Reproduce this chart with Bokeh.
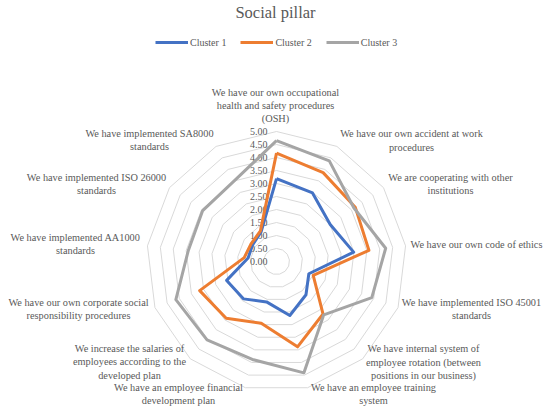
import numpy as np
from bokeh.plotting import figure
from bokeh.models import Range1d, Legend, LegendItem
from bokeh.core.properties import value
from bokeh.embed import file_html
from bokeh.resources import INLINE

# ---------------- data ----------------
CATEGORIES = [
    "We have our own occupational\nhealth and safety procedures\n(OSH)",
    "We have our own accident at work\nprocedures",
    "We are cooperating with other\ninstitutions",
    "We have our own code of ethics",
    "We have implemented ISO 45001\nstandards",
    "We have internal system of\nemployee rotation (between\npositions in our business)",
    "We have an employee training\nsystem",
    "We have an employee financial\ndevelopment plan",
    "We increase the salaries of\nemployees according to the\ndeveloped plan",
    "We have our own corporate social\nresponsibility procedures",
    "We have implemented AA1000\nstandards",
    "We have implemented ISO 26000\nstandards",
    "We have implemented SA8000\nstandards",
]
SERIES_NAMES = ["Cluster 1", "Cluster 2", "Cluster 3"]
CLUSTER_1 = [3.19, 2.98, 2.51, 2.99, 1.33, 1.71, 2.14, 1.60, 1.92, 2.05, 1.10, 1.12, 1.28]
CLUSTER_2 = [4.17, 3.86, 3.68, 3.58, 1.51, 2.70, 3.38, 2.45, 2.92, 3.16, 1.25, 1.19, 1.33]
CLUSTER_3 = [4.65, 4.37, 3.62, 4.23, 3.92, 2.74, 4.41, 3.88, 4.03, 4.14, 3.42, 3.45, 3.50]
TICKS = [0.0, 0.5, 1.0, 1.5, 2.0, 2.5, 3.0, 3.5, 4.0, 4.5, 5.0]
TICK_LABELS = ["0.00", "0.50", "1.00", "1.50", "2.00", "2.50", "3.00", "3.50", "4.00", "4.50", "5.00"]

# ---------------- layout / style ----------------
W, H = 550, 410
OFF_X, OFF_Y = 0, 0      # page offset of the figure
PX_PER_UNIT = 26.0
CX, CY = 276.0, 261.0   # radar centre in page pixels
TEXT_COLOR = "#595959"
FONT = "Liberation Serif"
COLORS = ["#4472C4", "#ED7D31", "#A5A5A5"]
# label block centres (page px) : (centre x, first line y)
LABEL_LAYOUT = [
    (275, 91.7), (411, 133.3), (450, 177.0), (476, 244.0), (471, 301.7),
    (423, 348.3), (373, 387.0), (178, 387.0), (129, 348.0), (78, 301.7),
    (75, 236.7), (96, 176.7), (149, 133.0),
]
LINE_STEP = 13.3


def px_to_data(px, py):
    return (px - CX) / PX_PER_UNIT, (CY - py) / PX_PER_UNIT


x0, y_top = px_to_data(OFF_X, OFF_Y)
x1, y_bot = px_to_data(OFF_X + W, OFF_Y + H)

p = figure(width=W, height=H, output_backend="svg", toolbar_location=None,
           x_range=Range1d(x0, x1), y_range=Range1d(y_bot, y_top),
           min_border=0, min_border_left=0, min_border_right=0,
           min_border_top=0, min_border_bottom=0)
p.axis.visible = False
p.grid.visible = False
p.outline_line_color = None
p.background_fill_color = "white"

n = len(CATEGORIES)
theta = 2 * np.pi * np.arange(n) / n


def polar(vals):
    v = np.asarray(vals, dtype=float)
    xs = v * np.sin(theta)
    ys = v * np.cos(theta)
    return list(xs) + [xs[0]], list(ys) + [ys[0]]


# grid rings
ring_xs, ring_ys = [], []
for t in TICKS[1:]:
    xs, ys = polar([t] * n)
    ring_xs.append(xs)
    ring_ys.append(ys)
p.multi_line(ring_xs, ring_ys, line_color="#D9D9D9", line_width=1)

# tick labels along the vertical axis
p.text(x=[0] * len(TICKS), y=TICKS, text=TICK_LABELS, text_align="right",
       text_baseline="middle", x_offset=-9, text_font=value(FONT),
       text_font_size="10px", text_color=TEXT_COLOR)

# series
renderers = []
for name, vals, col in zip(SERIES_NAMES, [CLUSTER_1, CLUSTER_2, CLUSTER_3], COLORS):
    xs, ys = polar(vals)
    r = p.line(xs, ys, line_color=col, line_width=3, line_join="round")
    renderers.append(r)

# category labels
lx, ly, lt = [], [], []
for cat, (cx, cy) in zip(CATEGORIES, LABEL_LAYOUT):
    for i, line in enumerate(cat.split("\n")):
        dx, dy = px_to_data(cx, cy + i * LINE_STEP)
        lx.append(dx)
        ly.append(dy)
        lt.append(line)
p.text(x=lx, y=ly, text=lt, text_align="center", text_baseline="middle",
       text_font=value(FONT), text_font_size="10.3px", text_color=TEXT_COLOR)

# title
tx, ty = px_to_data(275, 11.5)
p.text(x=[tx], y=[ty], text=["Social pillar"], text_align="center",
       text_baseline="middle", text_font=value(FONT), text_font_size="16.5px",
       text_color=TEXT_COLOR)

# legend
legend = Legend(items=[LegendItem(label=nm, renderers=[r]) for nm, r in zip(SERIES_NAMES, renderers)],
                orientation="horizontal",
                location=(155 - OFF_X, H - (42.3 - OFF_Y) - 10),
                padding=0, margin=0, spacing=14, glyph_width=33, glyph_height=20,
                label_standoff=2, label_height=20,
                label_text_font=FONT, label_text_font_size="10px",
                label_text_color=TEXT_COLOR,
                border_line_alpha=0, background_fill_alpha=0)
p.add_layout(legend, "center")

open("out.html", "w").write(file_html(p, INLINE))
